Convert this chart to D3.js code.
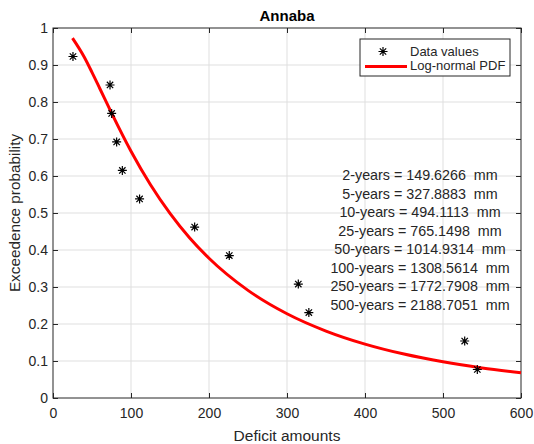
<!DOCTYPE html>
<html>
<head>
<meta charset="utf-8">
<script src="https://cdn.jsdelivr.net/npm/d3@7"></script>
<style>
  body { margin: 0; background: #fff; }
  text { font-family: "Liberation Sans", Arial, Helvetica, sans-serif; fill: #262626; }
</style>
</head>
<body>
<svg id="chart" width="534" height="444"></svg>
<script>
// data
var data_x = [25.6, 73.1, 75.2, 81.6, 88.9, 111, 181.6, 226, 314.5, 328, 527.8, 544];
var data_y = [0.923, 0.846, 0.769, 0.692, 0.615, 0.538, 0.462, 0.385, 0.308, 0.231, 0.154, 0.077];

// fitted curve
var curve_x = [25, 40, 50, 60, 75, 100, 125, 150, 175, 200, 250, 300, 350, 400, 450, 500, 550, 600];
var curve_y = [0.9725, 0.9215, 0.880, 0.8365, 0.7706, 0.667, 0.5764, 0.4989, 0.4332, 0.3777, 0.2909, 0.2277, 0.1810, 0.1457, 0.1187, 0.0978, 0.0813, 0.0681];

var x_ticks = [0, 100, 200, 300, 400, 500, 600];
var y_ticks = [0, 0.1, 0.2, 0.3, 0.4, 0.5, 0.6, 0.7, 0.8, 0.9, 1];

var return_lines = [
    "2-years = 149.6266  mm",
    "5-years = 327.8883  mm",
    "10-years = 494.1113  mm",
    "25-years = 765.1498  mm",
    "50-years = 1014.9314  mm",
    "100-years = 1308.5614  mm",
    "250-years = 1772.7908  mm",
    "500-years = 2188.7051  mm"
];

var legend_labels = ["Data values", "Log-normal PDF"];

var margin = {left: 53, top: 28, right: 13, bottom: 46};
var W = 534, H = 444;
var width = W - margin.left - margin.right,
    height = H - margin.top - margin.bottom;

var root = d3.select("#chart");
root.append("rect").attr("width", W).attr("height", H).attr("fill", "#fff");

var svg = root.append("g")
    .attr("transform", "translate(" + margin.left + "," + margin.top + ")");

var x = d3.scaleLinear().domain([0, 600]).range([0, width]);
var y = d3.scaleLinear().domain([0, 1]).range([height, 0]);

// grid
svg.append("g").selectAll("line")
   .data(x_ticks.slice(1, -1))
   .enter().append("line")
   .attr("x1", d => x(d)).attr("x2", d => x(d))
   .attr("y1", 0).attr("y2", height)
   .attr("stroke", "#dfdfdf").attr("stroke-width", 1);

svg.append("g").selectAll("line")
   .data(y_ticks.slice(1, -1))
   .enter().append("line")
   .attr("x1", 0).attr("x2", width)
   .attr("y1", d => y(d)).attr("y2", d => y(d))
   .attr("stroke", "#dfdfdf").attr("stroke-width", 1);

// axes (ticks inward, box on)
var tl = 5;
function style_axis(g) {
    g.select(".domain").remove();
    g.selectAll(".tick line").attr("stroke", "#262626");
    g.selectAll(".tick text").style("font-size", "14px").attr("fill", "#262626");
}

svg.append("g")
   .attr("transform", "translate(0," + height + ")")
   .call(d3.axisBottom(x).tickValues(x_ticks).tickSize(-tl).tickPadding(10).tickFormat(d3.format("d")))
   .call(style_axis);

svg.append("g")
   .call(d3.axisTop(x).tickValues(x_ticks).tickSize(-tl).tickFormat(""))
   .call(style_axis);

svg.append("g")
   .call(d3.axisLeft(y).tickValues(y_ticks).tickSize(-tl).tickPadding(5).tickFormat(d => d3.format("")(+d.toFixed(1))))
   .call(style_axis);

svg.append("g")
   .attr("transform", "translate(" + width + ",0)")
   .call(d3.axisRight(y).tickValues(y_ticks).tickSize(-tl).tickFormat(""))
   .call(style_axis);

svg.append("rect")
   .attr("width", width).attr("height", height)
   .attr("fill", "none").attr("stroke", "#262626").attr("stroke-width", 1);

// fitted curve
var line = d3.line()
             .x((d, i) => x(curve_x[i]))
             .y(d => y(d))
             .curve(d3.curveMonotoneX);

svg.append("path")
   .datum(curve_y)
   .attr("d", line)
   .attr("fill", "none")
   .attr("stroke", "#ff0000")
   .attr("stroke-width", 3);

// asterisk marker
function star(r) {
    var d = r * Math.SQRT1_2;
    return "M0," + (-r) + "V" + r +
           "M" + (-r) + ",0H" + r +
           "M" + (-d) + "," + (-d) + "L" + d + "," + d +
           "M" + (-d) + "," + d + "L" + d + "," + (-d);
}

svg.selectAll(".pt")
   .data(data_y)
   .enter().append("path")
   .attr("class", "pt")
   .attr("transform", (d, i) => "translate(" + x(data_x[i]) + "," + y(d) + ")")
   .attr("d", star(4.5))
   .attr("stroke", "#000")
   .attr("stroke-width", 1.2)
   .attr("fill", "none");

// return period text
svg.append("g").selectAll("text")
   .data(return_lines)
   .enter().append("text")
   .attr("x", 420 - margin.left)
   .attr("y", (d, i) => 180 - margin.top + i * 18.5)
   .attr("text-anchor", "middle")
   .style("white-space", "pre")
   .style("font-size", "14.3px")
   .text(d => d);

// legend
var lg = root.append("g").attr("transform", "translate(360,39)");
lg.append("rect").attr("width", 150).attr("height", 37)
  .attr("fill", "#fff").attr("stroke", "#262626").attr("stroke-width", 1);
lg.append("path").attr("d", star(4.5))
  .attr("transform", "translate(23,12.5)")
  .attr("stroke", "#000").attr("stroke-width", 1.2);
lg.append("line").attr("x1", 5).attr("x2", 47).attr("y1", 27.5).attr("y2", 27.5)
  .attr("stroke", "#ff0000").attr("stroke-width", 3);
lg.selectAll(".lgt")
  .data(legend_labels)
  .enter().append("text")
  .attr("class", "lgt")
  .attr("x", 50)
  .attr("y", (d, i) => 16.5 + i * 14.5)
  .style("font-size", "13px")
  .text(d => d);

// titles
root.append("text")
    .attr("x", margin.left + width / 2).attr("y", 21)
    .attr("text-anchor", "middle")
    .style("font-size", "15px").style("font-weight", "bold")
    .style("fill", "#000")
    .text("Annaba");

root.append("text")
    .attr("x", margin.left + width / 2).attr("y", 441)
    .attr("text-anchor", "middle")
    .style("font-size", "15.5px")
    .text("Deficit amounts");

root.append("text")
    .attr("transform", "translate(20," + (margin.top + height / 2) + ") rotate(-90)")
    .attr("text-anchor", "middle")
    .style("font-size", "15.3px")
    .text("Exceedence probability");
</script>
</body>
</html>
